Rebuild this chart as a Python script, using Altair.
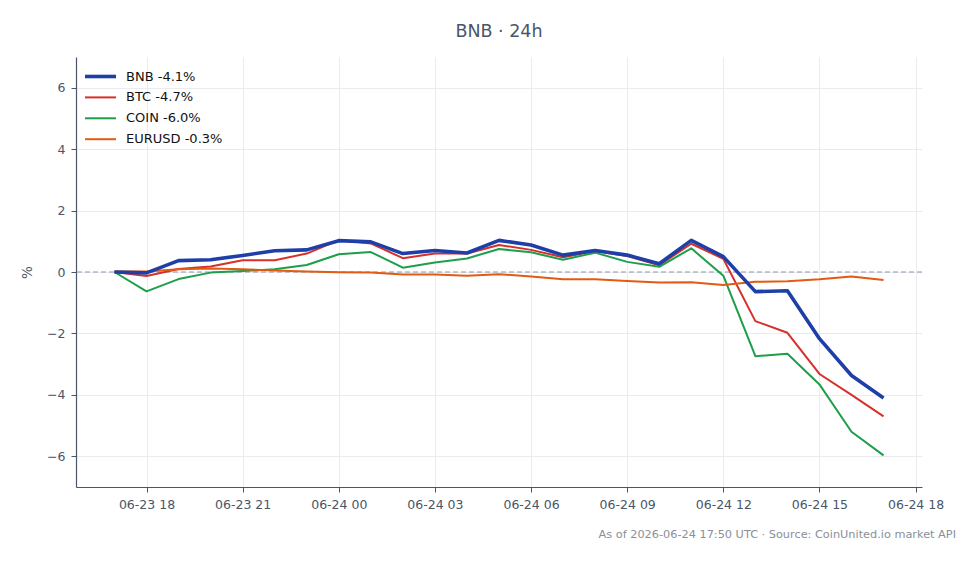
import altair as alt
import pandas as pd

# ---- data ----
hours = pd.date_range("2026-06-23 17:00", "2026-06-24 17:00", freq="h").strftime("%Y-%m-%dT%H:%M:%S").tolist()

series_names = ["BNB -4.1%", "BTC -4.7%", "COIN -6.0%", "EURUSD -0.3%"]
series_colors = ["#1f3fa8", "#d7302a", "#1e9e4a", "#e35a12"]

bnb = [0.00, -0.03, 0.37, 0.40, 0.54, 0.69, 0.72, 1.02, 0.98, 0.60, 0.70, 0.62, 1.03, 0.88,
       0.55, 0.70, 0.55, 0.27, 1.03, 0.50, -0.64, -0.61, -2.17, -3.37, -4.10]
btc = [0.00, -0.13, 0.10, 0.18, 0.38, 0.38, 0.60, 1.04, 0.93, 0.45, 0.60, 0.60, 0.88, 0.72,
       0.48, 0.68, 0.52, 0.22, 0.92, 0.43, -1.60, -1.98, -3.32, -4.00, -4.70]
coin = [0.00, -0.63, -0.23, -0.02, 0.03, 0.09, 0.23, 0.58, 0.65, 0.14, 0.31, 0.44, 0.75, 0.64,
        0.40, 0.63, 0.33, 0.17, 0.77, -0.12, -2.74, -2.66, -3.66, -5.20, -5.97]
eurusd = [0.02, 0.02, 0.09, 0.11, 0.09, 0.05, 0.02, -0.01, -0.02, -0.08, -0.08, -0.12, -0.07, -0.15,
          -0.24, -0.24, -0.29, -0.34, -0.33, -0.42, -0.32, -0.30, -0.24, -0.15, -0.26]

title_text = "BNB · 24h"
footer_text = "As of 2026-06-24 17:50 UTC · Source: CoinUnited.io market API"
y_ticks = [-6, -4, -2, 0, 2, 4, 6]
x_tick_hours = [(23, 18), (23, 21), (24, 0), (24, 3), (24, 6), (24, 9), (24, 12), (24, 15), (24, 18)]

# draw order: BTC, COIN, EURUSD below, BNB on top
rows = []
for name, vals in [(series_names[1], btc), (series_names[2], coin),
                   (series_names[3], eurusd), (series_names[0], bnb)]:
    for t, v in zip(hours, vals):
        rows.append({"time": t, "value": v, "series": name})
df = pd.DataFrame(rows)

AX = "#4a5568"
FONT = "DejaVu Sans"
MAIN = series_names[0]

x_domain = [
    alt.DateTime(year=2026, month=6, date=23, hours=15, minutes=48),
    alt.DateTime(year=2026, month=6, date=24, hours=18, minutes=12),
]
x_values = [alt.DateTime(year=2026, month=6, date=d, hours=h) for d, h in x_tick_hours]

x_enc = alt.X(
    "time:T",
    scale=alt.Scale(domain=x_domain),
    axis=alt.Axis(
        title=None,
        format="%m-%d %H",
        values=x_values,
        labelFontSize=12.5,
        labelPadding=6,
        tickSize=5,
    ),
)
y_scale = alt.Scale(domain=[-7, 7], nice=False)
y_enc = alt.Y(
    "value:Q",
    scale=y_scale,
    axis=alt.Axis(
        title="%",
        values=y_ticks,
        labelFontSize=12.5,
        labelPadding=6,
        tickSize=5,
        titleFontSize=13.5,
        titleFontWeight="normal",
        titlePadding=12,
    ),
)

zero = alt.Chart(pd.DataFrame({"value": [0]})).mark_rule(
    color="#8d98ab", strokeDash=[5, 3], strokeWidth=1.1
).encode(y=alt.Y("value:Q", scale=y_scale))

lines = alt.Chart(df).mark_line(strokeJoin="round").encode(
    x=x_enc,
    y=y_enc,
    color=alt.Color(
        "series:N",
        scale=alt.Scale(domain=series_names, range=series_colors),
        legend=alt.Legend(
            title=None,
            orient="none",
            legendX=18,
            legendY=13,
            symbolType="M-2,0H2",
            symbolSize=240,
            labelFontSize=13,
            labelColor="#111111",
            labelOffset=19,
            rowPadding=6.9,
            padding=0,
            symbolStrokeWidth=alt.ExprRef("datum.value === 'BNB -4.1%' ? 3.6 : 2"),
        ),
    ),
    strokeWidth=alt.condition(alt.datum.series == MAIN, alt.value(3.6), alt.value(2.0)),
)

footer = alt.Chart(pd.DataFrame({"t": [footer_text]})).mark_text(
    align="right", baseline="alphabetic", fontSize=11.3, color="#8a8f98", font=FONT
).encode(x=alt.value(880), y=alt.value(481), text="t:N")

chart = alt.layer(zero, lines, footer).properties(
    width=846,
    height=430,
    padding={"left": 76, "top": 57, "right": 58, "bottom": 77},
    autosize=alt.AutoSizeParams(type="none"),
    title=alt.Title(title_text, fontSize=17.5, color=AX, font=FONT, fontWeight="normal", offset=17),
).configure_view(stroke=None).configure_axis(
    domainColor=AX,
    tickColor=AX,
    labelColor=AX,
    titleColor=AX,
    gridColor="#e9ebef",
    domainWidth=1.2,
    labelFont=FONT,
    titleFont=FONT,
).configure_legend(labelFont=FONT)

chart.save("out.html", embed_options={"renderer": "svg", "actions": False})
